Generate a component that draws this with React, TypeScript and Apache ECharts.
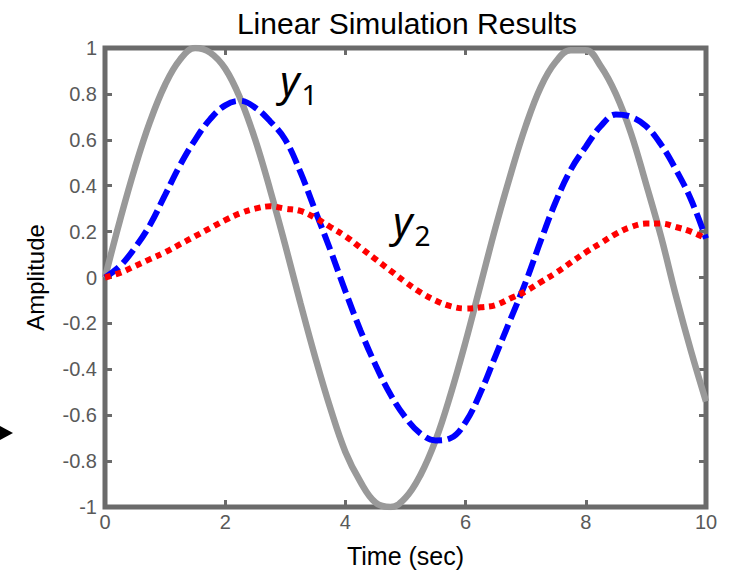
import React, { useEffect, useRef } from "react";
import * as echarts from "echarts";

const timeGray = [0, 0.25, 0.5, 0.75, 1, 1.25, 1.5, 1.75, 2, 2.25, 2.5, 2.75, 3, 3.25, 3.5, 3.75, 4, 4.25, 4.5, 4.75, 5, 5.25, 5.5, 5.75, 6, 6.25, 6.5, 6.75, 7, 7.25, 7.5, 7.75, 8, 8.25, 8.5, 8.75, 9, 9.25, 9.5, 9.75, 10];
const inputU = [0, 0.25, 0.48, 0.68, 0.84, 0.95, 1.0, 0.98, 0.91, 0.78, 0.6, 0.38, 0.14, -0.11, -0.35, -0.57, -0.76, -0.89, -0.98, -1.0, -0.96, -0.86, -0.71, -0.51, -0.28, -0.03, 0.22, 0.45, 0.66, 0.83, 0.94, 0.99, 0.99, 0.92, 0.8, 0.63, 0.41, 0.18, -0.08, -0.32, -0.54];

const timeY = [0, 0.25, 0.5, 0.75, 1, 1.25, 1.5, 1.75, 2, 2.25, 2.5, 2.75, 3, 3.25, 3.5, 3.75, 4, 4.25, 4.5, 4.75, 5, 5.25, 5.5, 5.75, 6, 6.25, 6.5, 6.75, 7, 7.25, 7.5, 7.75, 8, 8.25, 8.5, 8.75, 9, 9.25, 9.5, 9.75, 10];
const outY1 = [0, 0.05, 0.13, 0.23, 0.36, 0.49, 0.6, 0.69, 0.75, 0.77, 0.74, 0.68, 0.6, 0.46, 0.29, 0.12, -0.06, -0.23, -0.38, -0.51, -0.61, -0.68, -0.71, -0.7, -0.63, -0.5, -0.34, -0.18, -0.02, 0.16, 0.33, 0.47, 0.57, 0.66, 0.71, 0.7, 0.66, 0.58, 0.47, 0.34, 0.17];
const outY2 = [0, 0.02, 0.05, 0.08, 0.11, 0.145, 0.18, 0.215, 0.25, 0.28, 0.3, 0.31, 0.3, 0.29, 0.26, 0.22, 0.18, 0.13, 0.08, 0.03, -0.02, -0.065, -0.1, -0.125, -0.135, -0.13, -0.12, -0.09, -0.06, -0.02, 0.02, 0.065, 0.11, 0.15, 0.19, 0.22, 0.235, 0.235, 0.22, 0.2, 0.17];

const xTicks = [0, 2, 4, 6, 8, 10];
const yTicks = [-1, -0.8, -0.6, -0.4, -0.2, 0, 0.2, 0.4, 0.6, 0.8, 1];

const TITLE = "Linear Simulation Results";
const X_NAME = "Time (sec)";
const Y_NAME = "Amplitude";

const AX = "#6b6b6b";
const LBL = "#595959";
const FONT = "'Liberation Sans', Arial, sans-serif";
const SUBFONT = "'Noto Sans', 'Open Sans', sans-serif";

export default function App() {
  const ref = useRef<HTMLDivElement>(null);
  useEffect(() => {
    if (!ref.current) return;
    const chart = echarts.init(ref.current, null, { renderer: "svg" });
    const pair = (t: number[], v: number[]) => t.map((x, i) => [x, v[i]]);
    const tickStyle = { show: true, inside: true, length: 7, lineStyle: { color: AX, width: 3 } };
    const richLabel = {
      y: { fontFamily: SUBFONT, fontStyle: "italic", fontSize: 42, fill: "#000" },
      s: { fontFamily: SUBFONT, fontSize: 28, fill: "#000", padding: [30, 0, 0, 2] },
    };
    chart.setOption({
      animation: false,
      backgroundColor: "#ffffff",
      title: {
        text: TITLE,
        left: 402,
        textAlign: "center",
        top: 3,
        textStyle: { fontFamily: FONT, fontSize: 30, fontWeight: "normal", color: "#000" },
      },
      grid: {
        left: 105,
        right: 23,
        top: 48,
        bottom: 66,
        show: true,
        borderColor: AX,
        borderWidth: 5,
        backgroundColor: "#fff",
      },
      xAxis: [
        {
          type: "value",
          min: 0,
          max: 10,
          interval: 2,
          name: X_NAME,
          nameLocation: "middle",
          nameGap: 36,
          nameTextStyle: { fontFamily: FONT, fontSize: 25, color: "#000" },
          axisLine: { show: false, onZero: false },
          axisTick: tickStyle,
          splitLine: { show: false },
          axisLabel: {
            fontFamily: FONT,
            fontSize: 20,
            color: LBL,
            margin: 5,
            formatter: (v: number) => (xTicks.indexOf(v) >= 0 ? String(v) : ""),
          },
        },
        {
          type: "value",
          position: "top",
          min: 0,
          max: 10,
          interval: 2,
          axisLine: { show: false, onZero: false },
          axisTick: tickStyle,
          splitLine: { show: false },
          axisLabel: { show: false },
        },
      ],
      yAxis: [
        {
          type: "value",
          min: -1,
          max: 1,
          interval: 0.2,
          name: Y_NAME,
          nameLocation: "middle",
          nameGap: 58,
          nameRotate: 90,
          nameTextStyle: { fontFamily: FONT, fontSize: 24, color: "#000" },
          axisLine: { show: false, onZero: false },
          axisTick: tickStyle,
          splitLine: { show: false },
          axisLabel: {
            fontFamily: FONT,
            fontSize: 20,
            color: LBL,
            margin: 8,
            formatter: (v: number) => {
              const r = Math.round(v * 10) / 10;
              return yTicks.indexOf(r) >= 0 ? String(r) : "";
            },
          },
        },
        {
          type: "value",
          position: "right",
          min: -1,
          max: 1,
          interval: 0.2,
          axisLine: { show: false, onZero: false },
          axisTick: tickStyle,
          splitLine: { show: false },
          axisLabel: { show: false },
        },
      ],
      series: [
        {
          type: "line",
          data: pair(timeGray, inputU),
          smooth: 0.4,
          symbol: "none",
          lineStyle: { color: "#999999", width: 6.5, type: "solid" },
          z: 3,
        },
        {
          type: "line",
          data: pair(timeY, outY1),
          smooth: 0.4,
          symbol: "none",
          lineStyle: { color: "#0000ff", width: 6, type: [17, 6], cap: "butt" },
          z: 4,
        },
        {
          type: "line",
          data: pair(timeY, outY2),
          smooth: 0.4,
          symbol: "none",
          lineStyle: { color: "#ff0000", width: 6, type: [6, 5], cap: "butt" },
          z: 5,
        },
      ],
      graphic: [
        {
          type: "text",
          left: 280,
          top: 58,
          style: { text: "{y|y}{s|1}", rich: richLabel },
        },
        {
          type: "text",
          left: 393,
          top: 199,
          style: { text: "{y|y}{s|2}", rich: richLabel },
        },
        {
          type: "polygon",
          shape: { points: [[0, 426], [13, 433], [0, 440]] },
          style: { fill: "#000" },
        },
      ],
    });
    return () => chart.dispose();
  }, []);
  return (
    <div
      ref={ref}
      style={{ position: "fixed", left: 0, top: 0, width: 729, height: 573, background: "#fff" }}
    />
  );
}
